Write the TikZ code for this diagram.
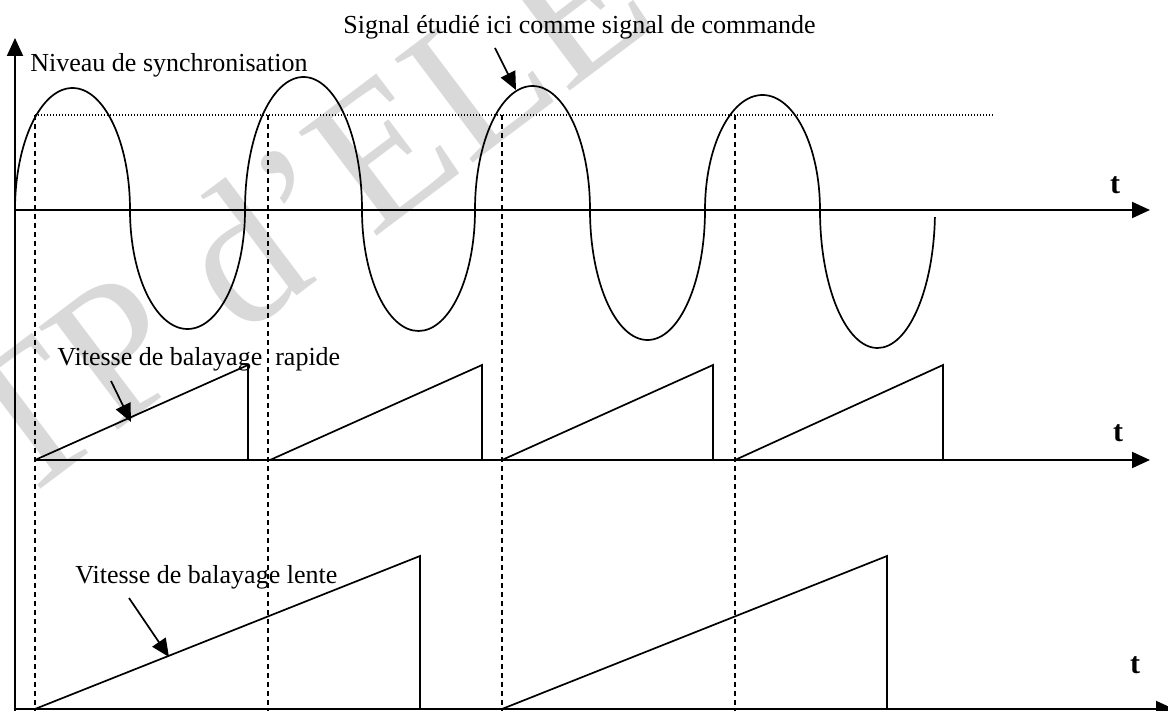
\documentclass[tikz,border=0pt]{standalone}
\usepackage{fontspec}
\setmainfont{Liberation Serif}
\usepackage{tikz}
\usetikzlibrary{arrows.meta}

\tikzset{
  axis/.style={line width=1pt, -{Triangle[length=9pt,width=8pt]}},
  wave/.style={line width=0.85pt},
  guide/.style={line width=0.8pt, dash pattern=on 2.5pt off 2pt},
  level/.style={line width=0.6pt, dash pattern=on 0.5pt off 1pt},
  pointer/.style={line width=0.85pt, -{Triangle[length=9pt,width=8pt]}},
  lbl/.style={inner sep=0pt, anchor=base west, font=\fontsize{13}{15}\selectfont},
  tlbl/.style={inner sep=0pt, font=\fontsize{15}{17}\selectfont\bfseries}
}

\begin{document}
\begin{tikzpicture}[x=0.5pt, y=-0.5pt]
    \useasboundingbox (0,0) rectangle (1168,711);
    % watermark
    \node[rotate=37, anchor=base west, inner sep=0pt, text=gray!30,
          font=\fontsize{99}{99}\selectfont] (wm) at (16,508) {TP d'ELE};

    % axes
    \coordinate (ytop) at (15,38);
    \coordinate (ybot) at (15,711);
    \draw[axis] (ybot) -- (ytop);
    \draw[axis] (15,210) coordinate (a1) -- (1150,210);
    \draw[axis] (35,460) coordinate (a2) -- (1150,460);
    \draw[axis] (15,709) coordinate (a3) -- (1174,709);
    \node[tlbl] (t1) at (1115,185) {t};
    \node[tlbl] (t2) at (1118,433) {t};
    \node[tlbl] (t3) at (1135,665) {t};

    % synchronisation level and trigger instants
    \draw[level] (35,115) -- (993,115);
    \foreach \x in {35,268,502,735}{%
      \draw[guide] (\x,115) -- (\x,711);
    }

    % command signal
    \draw[wave] (a1)
      arc[start angle=180, end angle=360, x radius=57.5, y radius=122]
      arc[start angle=180, end angle=0,   x radius=57.5, y radius=119]
      arc[start angle=180, end angle=360, x radius=58.5, y radius=133]
      arc[start angle=180, end angle=0,   x radius=56.5, y radius=121]
      arc[start angle=180, end angle=360, x radius=57.5, y radius=124]
      arc[start angle=180, end angle=0,   x radius=57.5, y radius=130]
      arc[start angle=180, end angle=360, x radius=57.5, y radius=115]
      arc[start angle=180, end angle=3,   x radius=57.5, y radius=138];

    % fast sweep
    \foreach \s/\e in {35/248,270/482,502/713,735/943}{%
      \draw[wave] (\s,460) -- (\e,365) -- (\e,460);
    }

    % slow sweep
    \foreach \s/\e in {35/420,502/887}{%
      \draw[wave] (\s,709) -- (\e,556) -- (\e,709);
    }

    % labels
    \node[lbl] (sig) at (343,34) {Signal étudié ici comme signal de commande};
    \node[lbl] (niv) at (30,72) {Niveau de synchronisation};
    \node[lbl] (rap) at (57,365) {Vitesse de balayage\ \ rapide};
    \node[lbl] (len) at (75,583) {Vitesse de balayage lente};

    \coordinate (sigtip) at (516,90);
    \coordinate (raptip) at (131,422);
    \coordinate (lentip) at (169,657);
    \draw[pointer] (495,48) -- (sigtip);
    \draw[pointer] (111,381) -- (raptip);
    \draw[pointer] (129,598) -- (lentip);
\end{tikzpicture}
\end{document}
